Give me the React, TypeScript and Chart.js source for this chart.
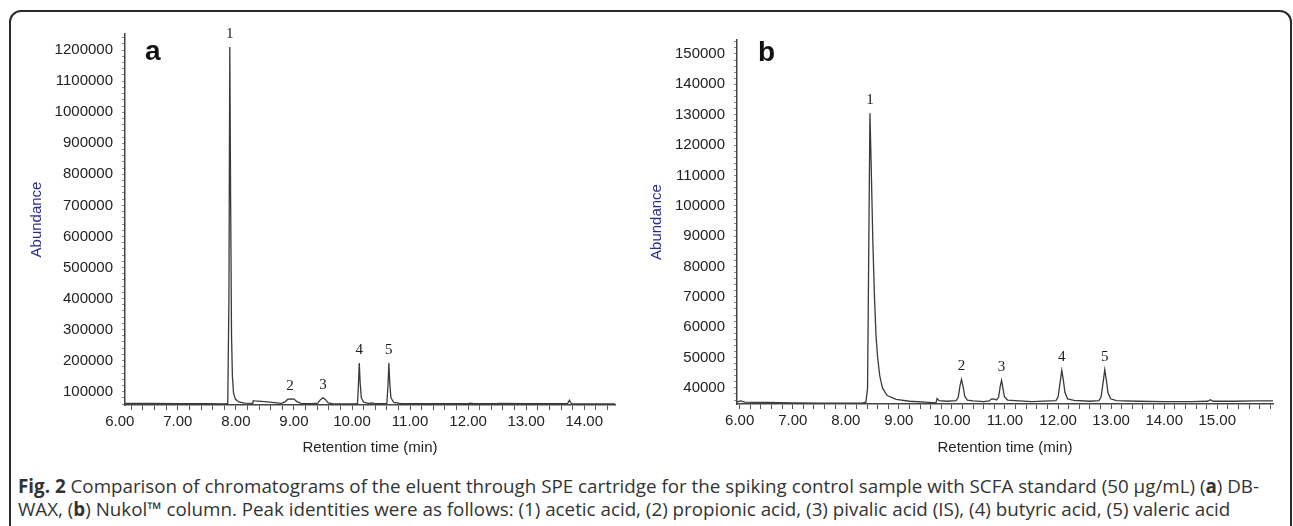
import React, { useEffect, useRef } from 'react';
import { Chart, registerables } from 'chart.js';
Chart.register(...registerables);

// ---------- Data: panel a (DB-WAX) ----------
const timesA = [6.09, 6.5, 7.0, 7.5, 7.80, 7.86, 7.88, 7.895, 7.91, 7.925, 7.94, 7.96, 7.99, 8.05, 8.15, 8.29, 8.30, 8.32, 8.5, 8.7, 8.78, 8.84, 8.89, 8.95, 9.00, 9.05, 9.12, 9.3, 9.41, 9.46, 9.50, 9.54, 9.59, 9.66, 9.85, 10.05, 10.095, 10.11, 10.125, 10.14, 10.16, 10.2, 10.28, 10.35, 10.38, 10.5, 10.60, 10.62, 10.635, 10.65, 10.67, 10.72, 10.85, 11.3, 12.0, 12.03, 12.1, 12.5, 12.53, 13.0, 13.4, 13.71, 13.745, 13.78, 14.0, 14.53];
const abundA = [62500, 62000, 61500, 61000, 60500, 62000, 400000, 1210000, 700000, 280000, 150000, 95000, 76000, 67000, 63000, 62000, 71000, 70500, 68000, 64000, 62000, 66000, 75000, 77000, 76000, 68000, 62000, 61000, 63000, 75000, 80000, 75000, 64000, 61000, 60500, 60500, 62000, 120000, 192000, 130000, 80000, 66000, 62500, 63500, 62000, 61000, 62000, 120000, 192000, 130000, 80000, 65000, 61500, 61000, 61000, 63000, 61000, 61000, 62000, 61000, 61000, 61000, 72000, 61500, 60500, 60500];
const peakTimesA = [7.895, 8.93, 9.50, 10.125, 10.635];
const peakHeightsA = [1210000, 77000, 80000, 192000, 192000];
const xTickLabelsA = [6, 7, 8, 9, 10, 11, 12, 13, 14];
const yTickLabelsA = [100000, 200000, 300000, 400000, 500000, 600000, 700000, 800000, 900000, 1000000, 1100000, 1200000];

// ---------- Data: panel b (Nukol) ----------
const timesB = [5.95, 6.02, 6.1, 6.5, 7.0, 7.5, 8.0, 8.3, 8.38, 8.41, 8.43, 8.455, 8.48, 8.51, 8.54, 8.57, 8.60, 8.64, 8.69, 8.78, 8.95, 9.2, 9.5, 9.70, 9.72, 9.76, 9.9,
  10.08, 10.12, 10.15, 10.18, 10.21, 10.24, 10.29, 10.4, 10.6, 10.70, 10.75, 10.80, 10.84, 10.88, 10.91, 10.935, 10.96, 10.99, 11.05, 11.5, 11.96, 12.00, 12.04, 12.07, 12.10, 12.13, 12.18, 12.3, 12.6, 12.77, 12.81, 12.85, 12.88, 12.91, 12.94, 12.99, 13.1, 13.5, 14.0, 14.5, 14.82, 14.87, 14.92, 15.3, 15.7, 16.05];
const abundB = [35400, 35700, 35300, 35200, 35100, 35000, 35000, 35000, 35300, 40000, 80000, 130500, 112000, 88000, 70000, 57000, 50000, 44000, 40000, 37500, 36200, 35600, 35300, 35100, 36500, 35800, 35600,
  35800, 37000, 40500, 42800, 40500, 37300, 36000, 35700, 35500, 35700, 36400, 36300, 36000, 37000, 40500, 42500, 40000, 37000, 36000, 35500, 35800, 37000, 42000, 45800, 42500, 38500, 36400, 35900, 35600, 35800, 37000, 42000, 46000, 42500, 38500, 36400, 35800, 35600, 35500, 35500, 35600, 36100, 35600, 35600, 35700, 35700];
const peakTimesB = [8.455, 10.18, 10.935, 12.07, 12.88];
const peakHeightsB = [130500, 42800, 42500, 45800, 46000];
const xTickLabelsB = [6, 7, 8, 9, 10, 11, 12, 13, 14, 15];
const yTickLabelsB = [40000, 50000, 60000, 70000, 80000, 90000, 100000, 110000, 120000, 130000, 140000, 150000];

const peakNames = ['1', '2', '3', '4', '5'];

const TEXT = '#222222';
const LINE = '#3a3a3a';
const AXIS = '#444444';
const NAVY = '#2b2b8f';

type PanelCfg = {
  times: number[];
  abund: number[];
  peakTimes: number[];
  peakHeights: number[];
  xLabels: number[];
  yLabels: number[];
  xMin: number; xMax: number; xEnd: number;
  yMin: number; yMax: number; yMinorStep: number; yMinorStart: number;
  pad: { top: number; right: number };
  yWidth: number; xHeight: number;
  letter: string; letterX: number; letterY: number;
  width: number; height: number;
};

function buildChart(canvas: HTMLCanvasElement, c: PanelCfg) {
  const labelPlugin = {
    id: 'peakLabels',
    afterDatasetsDraw(chart: any) {
      const ctx = chart.ctx;
      const xs = chart.scales.x;
      const ys = chart.scales.y;
      ctx.save();
      ctx.fillStyle = '#1a1a1a';
      ctx.font = '15px "Liberation Serif", "DejaVu Serif", serif';
      ctx.textAlign = 'center';
      ctx.textBaseline = 'middle';
      c.peakTimes.forEach((t, i) => {
        ctx.fillText(peakNames[i], xs.getPixelForValue(t), ys.getPixelForValue(c.peakHeights[i]) - 13);
      });
      ctx.fillStyle = '#111';
      ctx.font = 'bold 28px "Liberation Sans", Arial, sans-serif';
      ctx.textAlign = 'left';
      ctx.textBaseline = 'alphabetic';
      ctx.fillText(c.letter, c.letterX, c.letterY);
      ctx.restore();
    },
  };

  const xTickVals: number[] = [];
  for (let k = 0; ; k++) {
    const v = Math.round((c.xLabels[0] + k * 0.2) * 10) / 10;
    if (v > c.xEnd + 1e-9) break;
    xTickVals.push(v);
  }
  const yTickVals: number[] = [];
  for (let v = c.yMinorStart; v <= c.yMax; v += c.yMinorStep) yTickVals.push(v);

  return new Chart(canvas, {
    type: 'line',
    data: {
      datasets: [
        {
          data: c.times.map((t, i) => ({ x: t, y: c.abund[i] })),
          borderColor: LINE,
          borderWidth: 1.3,
          pointRadius: 0,
          tension: 0,
          fill: false,
        },
      ],
    },
    options: {
      animation: false,
      responsive: false,
      devicePixelRatio: 1,
      layout: { padding: { top: c.pad.top, right: c.pad.right, left: 0, bottom: 0 } },
      plugins: { legend: { display: false }, tooltip: { enabled: false } },
      scales: {
        x: {
          type: 'linear',
          min: c.xMin,
          max: c.xMax,
          afterFit: (s: any) => { s.height = c.xHeight; },
          afterBuildTicks: (s: any) => { s.ticks = xTickVals.map((v) => ({ value: v })); },
          border: { display: true, color: AXIS, width: 1.5 },
          grid: {
            drawOnChartArea: false,
            drawTicks: true,
            tickLength: 5,
            tickColor: (ctx: any) => (ctx.tick && ctx.tick.value < c.xMin ? 'rgba(0,0,0,0)' : '#555'),
            tickWidth: 1,
          },
          ticks: {
            autoSkip: false,
            maxRotation: 0,
            minRotation: 0,
            padding: 3,
            color: TEXT,
            font: { size: 15, family: '"Liberation Sans", Arial, sans-serif' },
            callback: (v: any) => {
              const n = Number(v);
              return c.xLabels.some((l) => Math.abs(l - n) < 1e-6) ? n.toFixed(2) : '';
            },
          },
          title: {
            display: true,
            text: 'Retention time (min)',
            color: TEXT,
            font: { size: 15, family: '"Liberation Sans", Arial, sans-serif' },
            padding: { top: 0, bottom: 13 },
          },
        },
        y: {
          type: 'linear',
          min: c.yMin,
          max: c.yMax,
          afterFit: (s: any) => { s.width = c.yWidth; },
          afterBuildTicks: (s: any) => { s.ticks = yTickVals.map((v) => ({ value: v })); },
          border: { display: true, color: AXIS, width: 1.5 },
          grid: {
            drawOnChartArea: false,
            drawTicks: true,
            tickLength: 3,
            tickColor: '#888',
            tickWidth: 1,
          },
          ticks: {
            autoSkip: false,
            padding: 9,
            color: TEXT,
            font: { size: 15, family: '"Liberation Sans", Arial, sans-serif' },
            callback: (v: any) => (c.yLabels.includes(Number(v)) ? String(v) : ''),
          },
          title: {
            display: true,
            text: 'Abundance',
            color: NAVY,
            font: { size: 15, family: '"Liberation Sans", Arial, sans-serif' },
            padding: { top: 8, bottom: 0 },
          },
        },
      },
    },
    plugins: [labelPlugin],
  } as any);
}

const cfgA: PanelCfg = {
  times: timesA, abund: abundA, peakTimes: peakTimesA, peakHeights: peakHeightsA,
  xLabels: xTickLabelsA, yLabels: yTickLabelsA,
  xMin: 6.09, xMax: 14.53, xEnd: 14.4,
  yMin: 57000, yMax: 1252000, yMinorStep: 20000, yMinorStart: 60000,
  pad: { top: 34, right: 15 }, yWidth: 105, xHeight: 65,
  letter: 'a', letterX: 125, letterY: 60, width: 610, height: 470,
};

const cfgB: PanelCfg = {
  times: timesB, abund: abundB, peakTimes: peakTimesB, peakHeights: peakHeightsB,
  xLabels: xTickLabelsB, yLabels: yTickLabelsB,
  xMin: 5.95, xMax: 16.05, xEnd: 16.0,
  yMin: 34700, yMax: 154600, yMinorStep: 2000, yMinorStart: 36000,
  pad: { top: 40, right: 12 }, yWidth: 97, xHeight: 66,
  letter: 'b', letterX: 118, letterY: 61, width: 645, height: 470,
};

function Panel({ cfg, left }: { cfg: PanelCfg; left: number }) {
  const ref = useRef<HTMLCanvasElement | null>(null);
  useEffect(() => {
    if (!ref.current) return;
    const chart = buildChart(ref.current, cfg);
    return () => chart.destroy();
  }, [cfg]);
  return (
    <canvas
      ref={ref}
      width={cfg.width}
      height={cfg.height}
      style={{ position: 'absolute', left, top: 0, width: cfg.width, height: cfg.height }}
    />
  );
}

export default function App() {
  return (
    <div
      style={{
        position: 'fixed', left: 0, top: 0, width: 1293, height: 526,
        overflow: 'hidden', background: '#fff',
      }}
    >
      <div
        style={{
          position: 'absolute', left: 9, top: 10, width: 1283, height: 700,
          boxSizing: 'border-box', border: '2px solid #2a2a2a', borderRadius: 12,
        }}
      />
      <Panel cfg={cfgA} left={20} />
      <Panel cfg={cfgB} left={640} />
      <div
        style={{
          position: 'absolute', left: 18, top: 475, whiteSpace: 'nowrap',
          fontFamily: '"Open Sans", "Noto Sans", sans-serif', fontSize: 18.8,
          lineHeight: '23px', color: '#333',
        }}
      >
        <b>Fig. 2</b> Comparison of chromatograms of the eluent through SPE cartridge for the spiking control sample with SCFA standard (50 μg/mL) (<b>a</b>) DB-
        <br />
        WAX, (<b>b</b>) Nukol™ column. Peak identities were as follows: (1) acetic acid, (2) propionic acid, (3) pivalic acid (IS), (4) butyric acid, (5) valeric acid
      </div>
    </div>
  );
}
